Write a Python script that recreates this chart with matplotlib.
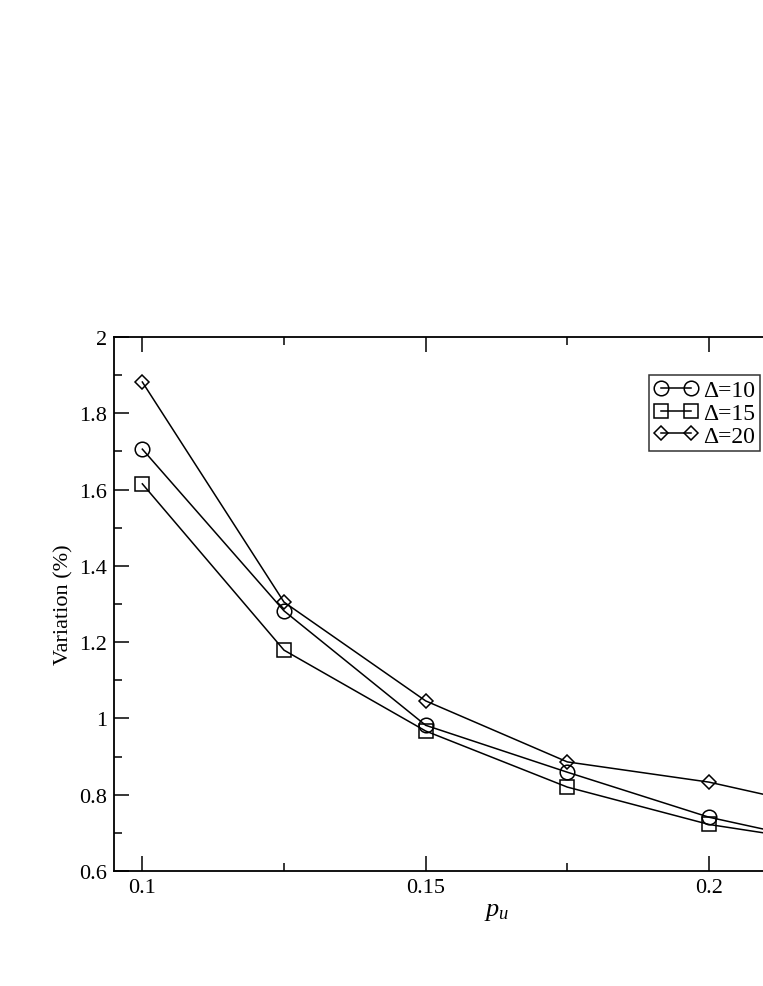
import matplotlib.pyplot as plt
from matplotlib.ticker import MultipleLocator

plt.rcParams['font.family'] = ['Liberation Serif', 'DejaVu Serif']
plt.rcParams['mathtext.fontset'] = 'custom'
plt.rcParams['mathtext.it'] = 'Liberation Serif:italic'

# data
p_u = [0.1, 0.125, 0.15, 0.175, 0.2, 0.225]
var_d10 = [1.706, 1.282, 0.982, 0.859, 0.741, 0.66]
var_d15 = [1.615, 1.179, 0.967, 0.820, 0.722, 0.665]
var_d20 = [1.882, 1.305, 1.046, 0.886, 0.833, 0.75]

fig = plt.figure(figsize=(7.63, 9.87), dpi=100)
# axes run just past the right edge, like the original cropped image
ax = fig.add_axes([114 / 763, 115 / 987, 765 / 763, 534 / 987])

ax.plot(p_u, var_d10, color='black', lw=1.1, marker='o', ms=10.5, mfc='none', mec='black', mew=1.1, label='Δ=10')
ax.plot(p_u, var_d15, color='black', lw=1.1, marker='s', ms=9.5, mfc='none', mec='black', mew=1.1, label='Δ=15')
ax.plot(p_u, var_d20, color='black', lw=1.1, marker='D', ms=7.5, mfc='none', mec='black', mew=1.1, label='Δ=20')

ax.set_xlim(0.095, 0.23)
ax.set_ylim(0.6, 2.0)
ax.xaxis.set_major_locator(MultipleLocator(0.05))
ax.xaxis.set_minor_locator(MultipleLocator(0.025))
ax.yaxis.set_major_locator(MultipleLocator(0.2))
ax.yaxis.set_minor_locator(MultipleLocator(0.1))
ax.xaxis.set_major_formatter(plt.FuncFormatter(lambda v, p: f'{v:g}'))
ax.yaxis.set_major_formatter(plt.FuncFormatter(lambda v, p: f'{v:g}'))

ax.tick_params(which='both', direction='in', top=True, right=True, labelsize=16, width=1.1)
ax.tick_params(which='major', length=11, pad=5)
ax.tick_params(which='minor', length=6)
for s in ax.spines.values():
    s.set_linewidth(1.3)

ax.set_xlabel('$p_u$', fontsize=19, labelpad=2)
ax.set_ylabel('Variation (%)', fontsize=16, labelpad=4)

leg = ax.legend(loc='upper left', bbox_to_anchor=(0.699, 0.929), fontsize=17, frameon=True,
                fancybox=False, edgecolor='black', numpoints=2, handlelength=1.9,
                handletextpad=0.2, borderpad=0.2, labelspacing=0.05, borderaxespad=0)
leg.get_frame().set_linewidth(1.1)

fig.savefig('out.png', dpi=100)
